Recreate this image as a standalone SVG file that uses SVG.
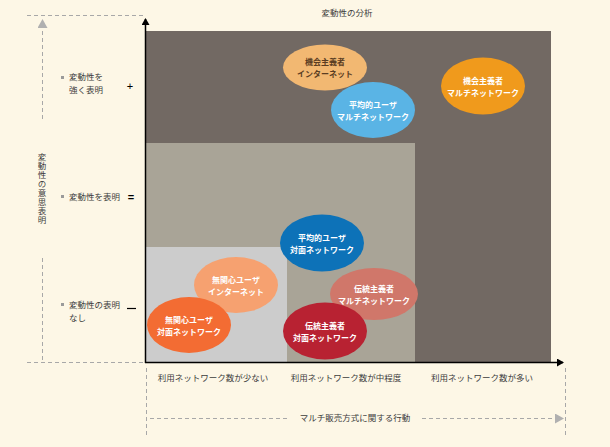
<svg xmlns="http://www.w3.org/2000/svg" width="610" height="447" viewBox="0 0 610 447">
<defs>
<style>
.t{font-family:"Noto Sans CJK JP","Liberation Sans",sans-serif;font-size:8.5px;fill:#3c3c3c}
.v{font-family:"Noto Sans CJK JP","Liberation Sans",sans-serif;font-size:8.5px;fill:#3c3c3c;writing-mode:vertical-rl;letter-spacing:0.5px}
.e{font-family:"Noto Sans CJK JP","Liberation Sans",sans-serif;font-size:8px;font-weight:bold;fill:#ffffff;text-anchor:middle}
.dash{stroke:#a8a8a8;stroke-width:1;stroke-dasharray:4,3;fill:none}
.ax{stroke:#000;stroke-width:1.5;fill:none}
</style>
<marker id="ab" markerWidth="8" markerHeight="8" refX="6" refY="4" orient="auto" markerUnits="userSpaceOnUse"><path d="M0,0 L7,4 L0,8 Z" fill="#000"/></marker>
<marker id="ag" markerWidth="10" markerHeight="10" refX="8" refY="5" orient="auto" markerUnits="userSpaceOnUse"><path d="M0,0 L9,5 L0,10 Z" fill="#b0b0b0"/></marker>
</defs>
<rect width="610" height="447" fill="#fdf7e6"/>
<g id="regions">
<rect x="145" y="31" width="406" height="331" fill="#726963"/>
<rect x="145" y="143" width="270" height="219" fill="#a9a497"/>
<rect x="145" y="247" width="142" height="115" fill="#cccccc"/>
</g>
<g id="connectors">
<line class="ax" x1="145.5" y1="363" x2="145.5" y2="19" marker-end="url(#ab)"/>
<line class="ax" x1="145" y1="362.5" x2="563" y2="362.5" marker-end="url(#ab)"/>
<line class="dash" x1="27" y1="15.5" x2="145" y2="15.5"/>
<line class="dash" x1="27" y1="362.5" x2="145" y2="362.5"/>
<line class="dash" x1="42.5" y1="119" x2="42.5" y2="20" marker-end="url(#ag)"/>
<line class="dash" x1="42.5" y1="258" x2="42.5" y2="362"/>
<line class="dash" x1="146.5" y1="368" x2="146.5" y2="435"/>
<line class="dash" x1="565.5" y1="368" x2="565.5" y2="435"/>
<line class="dash" x1="150" y1="418.5" x2="287" y2="418.5"/>
<line class="dash" x1="422" y1="418.5" x2="563" y2="418.5" marker-end="url(#ag)"/>
</g>
<g id="labels">
<text class="t" x="347" y="16" text-anchor="middle">変動性の分析</text>
<text class="t" x="213" y="381" text-anchor="middle">利用ネットワーク数が少ない</text>
<text class="t" x="346" y="381" text-anchor="middle">利用ネットワーク数が中程度</text>
<text class="t" x="482" y="381" text-anchor="middle">利用ネットワーク数が多い</text>
<text class="t" x="355" y="421" text-anchor="middle">マルチ販売方式に関する行動</text>
<text class="v" x="42" y="153">変動性の意思表明</text>
<rect x="61" y="76" width="3" height="3" fill="#9a9a9a"/>
<text class="t" x="69" y="80">変動性を</text>
<text class="t" x="69" y="93">強く表明</text>
<text x="130" y="90" font-family="Liberation Sans,sans-serif" font-size="11" fill="#000" text-anchor="middle">+</text>
<rect x="61" y="195" width="3" height="3" fill="#9a9a9a"/>
<text class="t" x="69" y="200">変動性を表明</text>
<text x="131" y="201" font-family="Liberation Sans,sans-serif" font-size="11" font-weight="bold" fill="#000" text-anchor="middle">=</text>
<rect x="61" y="303" width="3" height="3" fill="#9a9a9a"/>
<text class="t" x="69" y="308">変動性の表明</text>
<text class="t" x="69" y="321">なし</text>
<line x1="127" y1="308.5" x2="136" y2="308.5" stroke="#000" stroke-width="1.2"/>
</g>
<g id="n1"><ellipse cx="325" cy="67.5" rx="42" ry="23" fill="#f2b872"/><text class="e" x="325" y="65" style="fill:#5b3d22">機会主義者</text><text class="e" x="325" y="77" style="fill:#5b3d22">インターネット</text></g>
<g id="n2"><ellipse cx="373" cy="110" rx="42" ry="28" fill="#5ab4e5"/><text class="e" x="373" y="108">平均的ユーザ</text><text class="e" x="373" y="120">マルチネットワーク</text></g>
<g id="n3"><ellipse cx="483" cy="86" rx="42" ry="28.5" fill="#f09a1c"/><text class="e" x="483" y="84">機会主義者</text><text class="e" x="483" y="96">マルチネットワーク</text></g>
<g id="n4"><ellipse cx="322" cy="243" rx="42" ry="28.5" fill="#0d72b8"/><text class="e" x="322" y="241">平均的ユーザ</text><text class="e" x="322" y="253">対面ネットワーク</text></g>
<g id="n5"><ellipse cx="374" cy="294" rx="44" ry="26" fill="#d0776a"/><text class="e" x="374" y="292">伝統主義者</text><text class="e" x="374" y="304">マルチネットワーク</text></g>
<g id="n6"><ellipse cx="325" cy="331" rx="42" ry="28.5" fill="#b82232"/><text class="e" x="325" y="329">伝統主義者</text><text class="e" x="325" y="341">対面ネットワーク</text></g>
<g id="n7"><ellipse cx="236" cy="285" rx="42" ry="28" fill="#f6a170"/><text class="e" x="236" y="283">無関心ユーザ</text><text class="e" x="236" y="295">インターネット</text></g>
<g id="n8"><ellipse cx="189" cy="325" rx="42" ry="28" fill="#f36c33"/><text class="e" x="189" y="323">無関心ユーザ</text><text class="e" x="189" y="335">対面ネットワーク</text></g>
</svg>
